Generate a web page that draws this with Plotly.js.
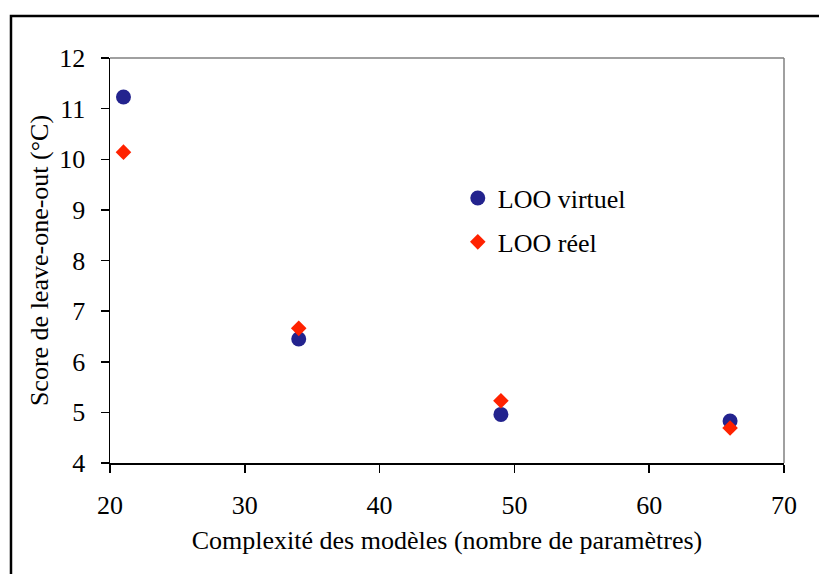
<!DOCTYPE html>
<html><head><meta charset="utf-8">
<script src="https://cdn.plot.ly/plotly-3.0.1.min.js"></script>
<style>html,body{margin:0;padding:0;background:#fff;}#chart{width:819px;height:574px;}</style>
</head><body><div id="chart"></div>
<script>
const complexity = [21, 34, 49, 66];
const looVirtuel = [11.23, 6.45, 4.96, 4.83];
const looReel = [10.14, 6.66, 5.23, 4.69];
const xTicks = [20, 30, 40, 50, 60, 70];
const yTicks = [4, 5, 6, 7, 8, 9, 10, 11, 12];

(function () {
  const FAM = 'Liberation Serif';
  const traces = [
    {x: complexity, y: looVirtuel, type: 'scatter', mode: 'markers', name: 'LOO virtuel', legendgroup: 'a',
     marker: {symbol: 'circle', size: 15, color: '#23238e'}, cliponaxis: false},
    {x: complexity, y: looReel, type: 'scatter', mode: 'markers', name: 'LOO réel', legendgroup: 'b',
     marker: {symbol: 'diamond', size: 12, color: '#ff2200'}, cliponaxis: false}
  ];
  const layout = {
    width: 819, height: 574,
    margin: {l: 110, r: 35, t: 58, b: 111},
    paper_bgcolor: '#fff', plot_bgcolor: '#fff',
    font: {family: FAM, size: 26, color: '#000'},
    showlegend: true,
    legend: {x: 0.516, y: 0.712, xanchor: 'left', yanchor: 'top', bgcolor: 'rgba(0,0,0,0)',
             font: {family: FAM, size: 26, color: '#000'}, traceorder: 'grouped', tracegroupgap: 7},
    xaxis: {range: [20, 70], tickvals: xTicks, ticktext: xTicks.map(String), showgrid: false, zeroline: false,
            showline: true, linecolor: '#000', linewidth: 1.5, ticks: 'outside', ticklen: 8, tickwidth: 1.5, tickcolor: '#000',
            ticklabelstandoff: 10, tickfont: {family: FAM, size: 26, color: '#000'},
            title: {text: 'Complexité des modèles (nombre de paramètres)', font: {family: FAM, size: 26, color: '#000'}, standoff: 12}},
    yaxis: {range: [4, 12], tickvals: yTicks, ticktext: yTicks.map(String), showgrid: false, zeroline: false,
            showline: true, linecolor: '#000', linewidth: 1.5, ticks: 'outside', ticklen: 8, tickwidth: 1.5, tickcolor: '#000',
            ticklabelstandoff: 10, tickfont: {family: FAM, size: 26, color: '#000'},
            title: {text: 'Score de leave-one-out (°C)', font: {family: FAM, size: 26, color: '#000'}, standoff: 3}},
    shapes: [
      {type: 'line', xref: 'paper', yref: 'paper', x0: 0, x1: 1, y0: 1, y1: 1, line: {color: '#808080', width: 1.5}},
      {type: 'line', xref: 'paper', yref: 'paper', x0: 1, x1: 1, y0: 0, y1: 1, line: {color: '#808080', width: 1.5}},
      {type: 'rect', xref: 'paper', yref: 'paper', x0: -0.1469, x1: 1.06, y0: -0.285, y1: 1.104,
       line: {color: '#000', width: 2.5}, fillcolor: 'rgba(0,0,0,0)'}
    ]
  };
  Plotly.newPlot('chart', traces, layout, {displayModeBar: false, staticPlot: true});
})();
</script></body></html>
